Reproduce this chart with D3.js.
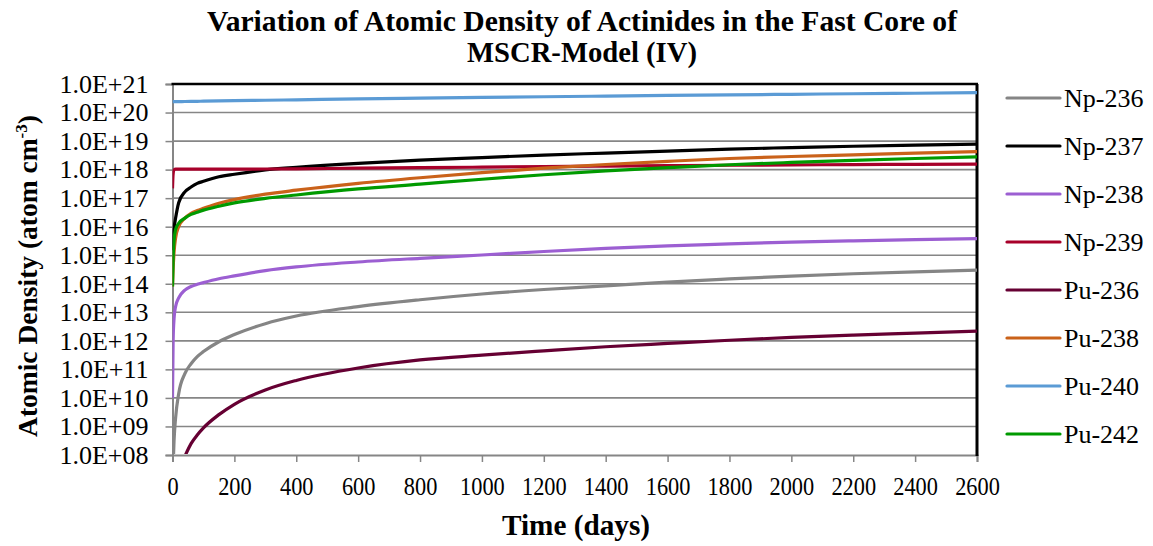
<!DOCTYPE html>
<html>
<head>
<meta charset="utf-8">
<script src="https://cdn.jsdelivr.net/npm/d3@7/dist/d3.min.js"></script>
<style>
  html, body { margin: 0; padding: 0; background: #ffffff; }
  svg { display: block; }
  svg text { font-family: 'Liberation Serif'; fill: #000; }
</style>
</head>
<body>
<svg id="chart" width="1153" height="546"></svg>
<script>
// Irradiation time in days
const days = [0, 2, 5, 10, 20, 40, 60, 80, 100, 150, 200, 300, 400, 600, 800,
              1000, 1200, 1400, 1600, 1800, 2000, 2200, 2400, 2600];

// Atomic densities (atom cm^-3); null = below the plotted range
const np236 = [null, 4.0e7, 3.2e8, 2.0e9, 1.41e10, 7.1e10, 1.58e11, 2.8e11, 4.2e11, 9.3e11,
               1.66e12, 4.0e12, 7.4e12, 1.58e13, 2.75e13, 4.37e13, 6.3e13, 8.5e13, 1.15e14,
               1.48e14, 1.86e14, 2.24e14, 2.63e14, 3.0e14];
const np237 = [1.5e15, 4.0e15, 8.9e15, 2.0e16, 6.9e16, 1.66e17, 2.45e17, 3.3e17, 3.9e17, 5.6e17,
               6.9e17, 9.8e17, 1.2e18, 1.66e18, 2.14e18, 2.63e18, 3.24e18, 3.8e18, 4.47e18,
               5.25e18, 5.9e18, 6.6e18, 7.2e18, 7.8e18];
const np238 = [1.0e10, 1.0e12, 6.0e12, 1.6e13, 3.2e13, 6.0e13, 8.0e13, 9.6e13, 1.1e14, 1.5e14,
               1.9e14, 2.9e14, 3.9e14, 5.8e14, 7.8e14, 1.02e15, 1.35e15, 1.74e15, 2.14e15,
               2.5e15, 2.9e15, 3.2e15, 3.5e15, 3.8e15];
const np239 = [2.2e17, 7.0e17, 9.8e17, 1.04e18, 1.04e18, 1.04e18, 1.04e18, 1.04e18, 1.04e18, 1.04e18,
               1.04e18, 1.05e18, 1.07e18, 1.12e18, 1.17e18, 1.22e18, 1.28e18, 1.33e18, 1.38e18,
               1.42e18, 1.46e18, 1.5e18, 1.53e18, 1.57e18];
const pu236 = [null, null, null, null, null, 9.0e7, 2.5e8, 5.0e8, 8.9e8, 2.6e9,
               6.0e9, 1.9e10, 4.1e10, 1.12e11, 2.14e11, 3.16e11, 4.47e11, 6.2e11, 8.1e11,
               1.05e12, 1.32e12, 1.58e12, 1.86e12, 2.2e12];
const pu238 = [8.0e13, 3.2e14, 1.26e15, 4.0e15, 1.0e16, 2.0e16, 2.95e16, 3.7e16, 4.4e16, 6.6e16,
               8.9e16, 1.38e17, 1.9e17, 3.3e17, 5.2e17, 7.8e17, 1.12e18, 1.51e18, 1.95e18,
               2.45e18, 2.88e18, 3.3e18, 3.8e18, 4.3e18];
const pu240 = [2.40e20, 2.40e20, 2.40e20, 2.41e20, 2.42e20, 2.44e20, 2.46e20, 2.48e20, 2.50e20, 2.55e20,
               2.60e20, 2.69e20, 2.79e20, 2.99e20, 3.18e20, 3.38e20, 3.58e20, 3.77e20, 3.97e20,
               4.17e20, 4.36e20, 4.56e20, 4.75e20, 4.95e20];
const pu242 = [8.0e13, 8.0e14, 3.2e15, 8.0e15, 1.32e16, 2.0e16, 2.7e16, 3.2e16, 3.8e16, 5.2e16,
               6.8e16, 9.8e16, 1.29e17, 2.1e17, 3.1e17, 4.6e17, 6.6e17, 9.1e17, 1.17e18,
               1.48e18, 1.78e18, 2.1e18, 2.45e18, 2.8e18];

const seriesNames  = ["Np-236", "Np-237", "Np-238", "Np-239", "Pu-236", "Pu-238", "Pu-240", "Pu-242"];
const seriesValues = [np236, np237, np238, np239, pu236, pu238, pu240, pu242];
const seriesColors = ["#858585", "#000000", "#9C5FD2", "#A8002A", "#660033", "#CA621A", "#5B9BD5", "#009A00"];

const xTicks = d3.range(0, 2601, 200);
const yTicks = d3.range(8, 22).map(e => Math.pow(10, e));

const titleLines = ["Variation of Atomic Density of Actinides in the Fast Core of", "MSCR-Model (IV)"];
const xTitle = "Time (days)";

const SERIF = "font-family: 'Liberation Serif', 'Times New Roman', serif";

// ---- layout ----
const plot = { left: 172.5, right: 977, top: 84, bottom: 455 };

const svg = d3.select("#chart");
svg.append("rect").attr("width", 1153).attr("height", 546).attr("fill", "#ffffff");

const x = d3.scaleLinear().domain([0, 2600]).range([plot.left, plot.right]);
const y = d3.scaleLog().domain([1e8, 1e21]).range([plot.bottom, plot.top]);

// horizontal gridlines
svg.append("g")
  .selectAll("line")
  .data(yTicks.slice(1, -1))
  .join("line")
  .attr("x1", plot.left).attr("x2", plot.right)
  .attr("y1", d => y(d)).attr("y2", d => y(d))
  .attr("stroke", "#868686").attr("stroke-width", 1.6);

// y axis
const expLabel = d => "1.0E+" + String(Math.round(Math.log10(d))).padStart(2, "0");
const yAxis = svg.append("g")
  .attr("transform", `translate(${plot.left},0)`)
  .call(d3.axisLeft(y).tickValues(yTicks).tickFormat(expLabel).tickSize(7).tickPadding(17));
yAxis.attr("font-family", null).attr("font-size", null);
yAxis.select(".domain").attr("stroke", "#868686").attr("stroke-width", 2);
yAxis.selectAll(".tick line").attr("stroke", "#868686").attr("stroke-width", 1.5);
yAxis.selectAll(".tick text")
  .attr("style", SERIF + "; font-size: 26px").attr("fill", "#000");

// x axis (labels set in a narrow face)
const xAxis = svg.append("g")
  .attr("transform", `translate(0,${plot.bottom})`)
  .call(d3.axisBottom(x).tickValues(xTicks).tickFormat(d3.format("d")).tickSize(7).tickPadding(15));
xAxis.attr("font-family", null).attr("font-size", null);
xAxis.select(".domain").attr("stroke", "#868686").attr("stroke-width", 2);
xAxis.selectAll(".tick line").attr("stroke", "#868686").attr("stroke-width", 1.5);
xAxis.selectAll(".tick text")
  .attr("style", SERIF + "; font-size: 26px").attr("fill", "#000")
  .attr("transform", "scale(0.86,1)");

// black frame on top and right
svg.append("line").attr("x1", plot.left - 1).attr("x2", plot.right + 1)
  .attr("y1", plot.top).attr("y2", plot.top).attr("stroke", "#000").attr("stroke-width", 2.5);
svg.append("line").attr("x1", plot.right).attr("x2", plot.right)
  .attr("y1", plot.top).attr("y2", plot.bottom + 1).attr("stroke", "#000").attr("stroke-width", 3);

// series lines
svg.append("clipPath").attr("id", "plotClip")
  .append("rect").attr("x", plot.left).attr("y", plot.top - 2)
  .attr("width", plot.right - plot.left + 2).attr("height", plot.bottom - plot.top + 1);

const line = d3.line()
  .defined(d => d[1] != null)
  .x(d => x(d[0]))
  .y(d => y(d[1]))
  .curve(d3.curveMonotoneX);

svg.append("g").attr("clip-path", "url(#plotClip)")
  .selectAll("path")
  .data(seriesValues.map((vals, i) => ({ name: seriesNames[i], color: seriesColors[i],
        pts: days.map((t, j) => [t, vals[j]]) })))
  .join("path")
  .attr("d", d => line(d.pts))
  .attr("fill", "none")
  .attr("stroke", d => d.color)
  .attr("stroke-width", 3.2)
  .attr("stroke-linejoin", "round");

// legend
const legend = svg.append("g");
seriesNames.forEach((name, i) => {
  const ly = 98 + i * 48;
  legend.append("line").attr("x1", 1007).attr("x2", 1060).attr("y1", ly).attr("y2", ly)
    .attr("stroke", seriesColors[i]).attr("stroke-width", 3.2).attr("stroke-linecap", "round");
  legend.append("text").attr("x", 1064).attr("y", ly).attr("dy", "0.35em")
    .attr("style", SERIF + "; font-size: 26px").text(name);
});

// titles
svg.append("text").attr("x", 582).attr("y", 31).attr("text-anchor", "middle")
  .attr("style", SERIF + "; font-size: 29px; font-weight: bold")
  .attr("textLength", 750).attr("lengthAdjust", "spacingAndGlyphs")
  .text(titleLines[0]);
svg.append("text").attr("x", 582).attr("y", 62).attr("text-anchor", "middle")
  .attr("style", SERIF + "; font-size: 29px; font-weight: bold")
  .attr("textLength", 230).attr("lengthAdjust", "spacingAndGlyphs")
  .text(titleLines[1]);

svg.append("text").attr("x", 576).attr("y", 535).attr("text-anchor", "middle")
  .attr("style", SERIF + "; font-size: 29px; font-weight: bold")
  .attr("textLength", 148).attr("lengthAdjust", "spacingAndGlyphs")
  .text(xTitle);

const yTitle = svg.append("text")
  .attr("transform", "translate(37,276) rotate(-90)")
  .attr("text-anchor", "middle")
  .attr("style", SERIF + "; font-size: 27.5px; font-weight: bold");
yTitle.append("tspan").text("Atomic Density (atom cm");
yTitle.append("tspan").attr("style", "font-size: 17px").attr("dy", -10).text("-3");
yTitle.append("tspan").attr("dy", 10).text(")");
</script>
</body>
</html>
